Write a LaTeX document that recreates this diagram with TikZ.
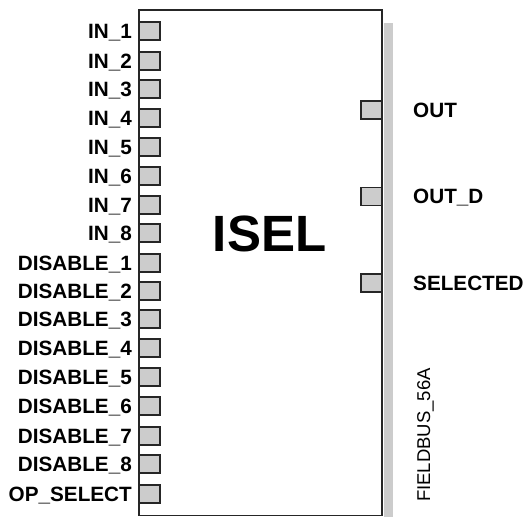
\documentclass[tikz,border=0pt]{standalone}
\usepackage{fontspec}
\setmainfont{Liberation Sans}
\begin{document}
\begin{tikzpicture}[x=1pt,y=-1pt,
  pin/.style={draw=black!85,line width=1.7pt,fill=black!20,minimum width=21pt,minimum height=18pt,inner sep=0pt,outer sep=0pt},
  lbl/.style={font=\fontsize{20.7}{24}\selectfont\bfseries,inner sep=0pt},
  blockbox/.style={draw=black!85,line width=1.7pt,fill=white}]
\useasboundingbox (0,0) rectangle (529,517);
\fill[black!20] (384,23) rectangle (392.5,517);
\draw[blockbox] (138.8,10) rectangle (381.7,515.5);
\node[inner sep=0pt] (box) at (260,262) {};
\node[font=\fontsize{51}{60}\selectfont\bfseries,anchor=base,inner sep=0pt] (title) at (269.5,251) {ISEL};
\foreach \n/\t/\y in {i1/IN\_1/31,i2/IN\_2/61,i3/IN\_3/89,i4/IN\_4/118,i5/IN\_5/147,i6/IN\_6/176,i7/IN\_7/205,i8/IN\_8/233,
  d1/DISABLE\_1/263,d2/DISABLE\_2/291,d3/DISABLE\_3/319,d4/DISABLE\_4/348,d5/DISABLE\_5/377,d6/DISABLE\_6/406,d7/DISABLE\_7/436,d8/DISABLE\_8/464,op/OP\_SELECT/494}{
  \node[pin,anchor=west] (p\n) at (138.8,\y) {};
  \node[lbl,anchor=base east] (l\n) at (132,\y+7.3) {\t};
}
\foreach \n/\t/\y in {out/OUT/110,outd/OUT\_D/196.5,sel/SELECTED/283}{
  \node[pin,anchor=east] (p\n) at (381.7,\y) {};
  \node[lbl,anchor=base west] (l\n) at (413,\y+7.3) {\t};
}
\node[font=\fontsize{18.5}{22}\selectfont,rotate=90,anchor=base west,inner sep=0pt] (tag) at (430,502) {FIELDBUS\_56A};
\end{tikzpicture}
\end{document}
